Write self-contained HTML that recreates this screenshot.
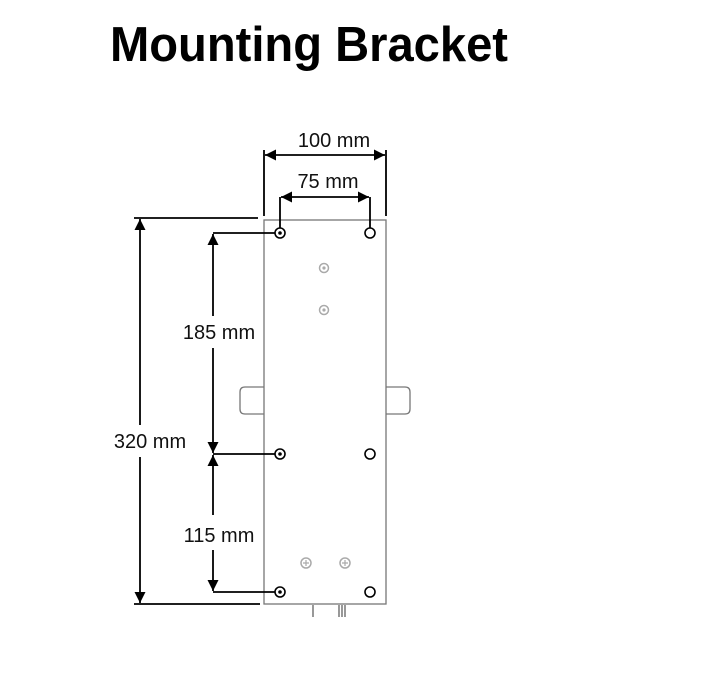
<!DOCTYPE html>
<html><head><style>body{margin:0;background:#fff}svg{display:block}</style></head><body>
<svg width="714" height="700" viewBox="0 0 714 700" xmlns="http://www.w3.org/2000/svg" font-family="Liberation Sans, sans-serif">
<defs><marker id="a" viewBox="0 0 10 10" refX="10" refY="5" markerWidth="12" markerHeight="11" markerUnits="userSpaceOnUse" orient="auto-start-reverse"><path d="M0,0L10,5L0,10z" fill="#000"/></marker></defs>
<text x="110" y="61" font-size="49" font-weight="bold" textLength="398" lengthAdjust="spacingAndGlyphs">Mounting Bracket</text>
<g fill="#fff" stroke="#777" stroke-width="1.3">
<path d="M264,387H245Q240,387 240,392V409Q240,414 245,414H264"/>
<path d="M386,387H405Q410,387 410,392V409Q410,414 405,414H386"/>
<rect x="264" y="220" width="122" height="384"/>
</g>
<g stroke="#555" stroke-width="1.2"><path d="M313,605V617M339,605V617M342,605V617M345,605V617"/></g>
<g fill="none" stroke="#000" stroke-width="1.6">
<circle cx="280" cy="233" r="5"/><circle cx="370" cy="233" r="5"/>
<circle cx="280" cy="454" r="5"/><circle cx="370" cy="454" r="5"/>
<circle cx="280" cy="592" r="5"/><circle cx="370" cy="592" r="5"/>
</g>
<g fill="#000"><circle cx="280" cy="233" r="1.8"/><circle cx="280" cy="454" r="1.8"/><circle cx="280" cy="592" r="1.8"/></g>
<g fill="none" stroke="#aaa" stroke-width="1.5">
<circle cx="324" cy="268" r="4.5"/><circle cx="324" cy="310" r="4.5"/>
<circle cx="306" cy="563" r="5"/><circle cx="345" cy="563" r="5"/>
</g>
<g fill="#aaa"><circle cx="324" cy="268" r="1.6"/><circle cx="324" cy="310" r="1.6"/></g>
<g stroke="#aaa" stroke-width="1.2"><path d="M303,563H309M306,560V566M342,563H348M345,560V566"/></g>
<g stroke="#000" stroke-width="1.8" fill="none">
<path d="M264,150V216M386,150V216"/>
<path d="M265,155H385" marker-start="url(#a)" marker-end="url(#a)"/>
<path d="M280,228V197M370,228V197"/>
<path d="M281,197H369" marker-start="url(#a)" marker-end="url(#a)"/>
<path d="M134,218H258M134,604H260"/>
<path d="M140,425V219" marker-end="url(#a)"/>
<path d="M140,457V603" marker-end="url(#a)"/>
<path d="M213,233H275M213,454H275M213,592H275"/>
<path d="M213,316V234" marker-end="url(#a)"/>
<path d="M213,348V453" marker-end="url(#a)"/>
<path d="M213,515V455" marker-end="url(#a)"/>
<path d="M213,550V591" marker-end="url(#a)"/>
</g>
<g font-size="20" fill="#111">
<text x="334" y="147" text-anchor="middle">100 mm</text>
<text x="328" y="188" text-anchor="middle">75 mm</text>
<text x="150" y="448" text-anchor="middle">320 mm</text>
<text x="219" y="339" text-anchor="middle">185 mm</text>
<text x="219" y="542" text-anchor="middle">115 mm</text>
</g>
</svg>
</body></html>
